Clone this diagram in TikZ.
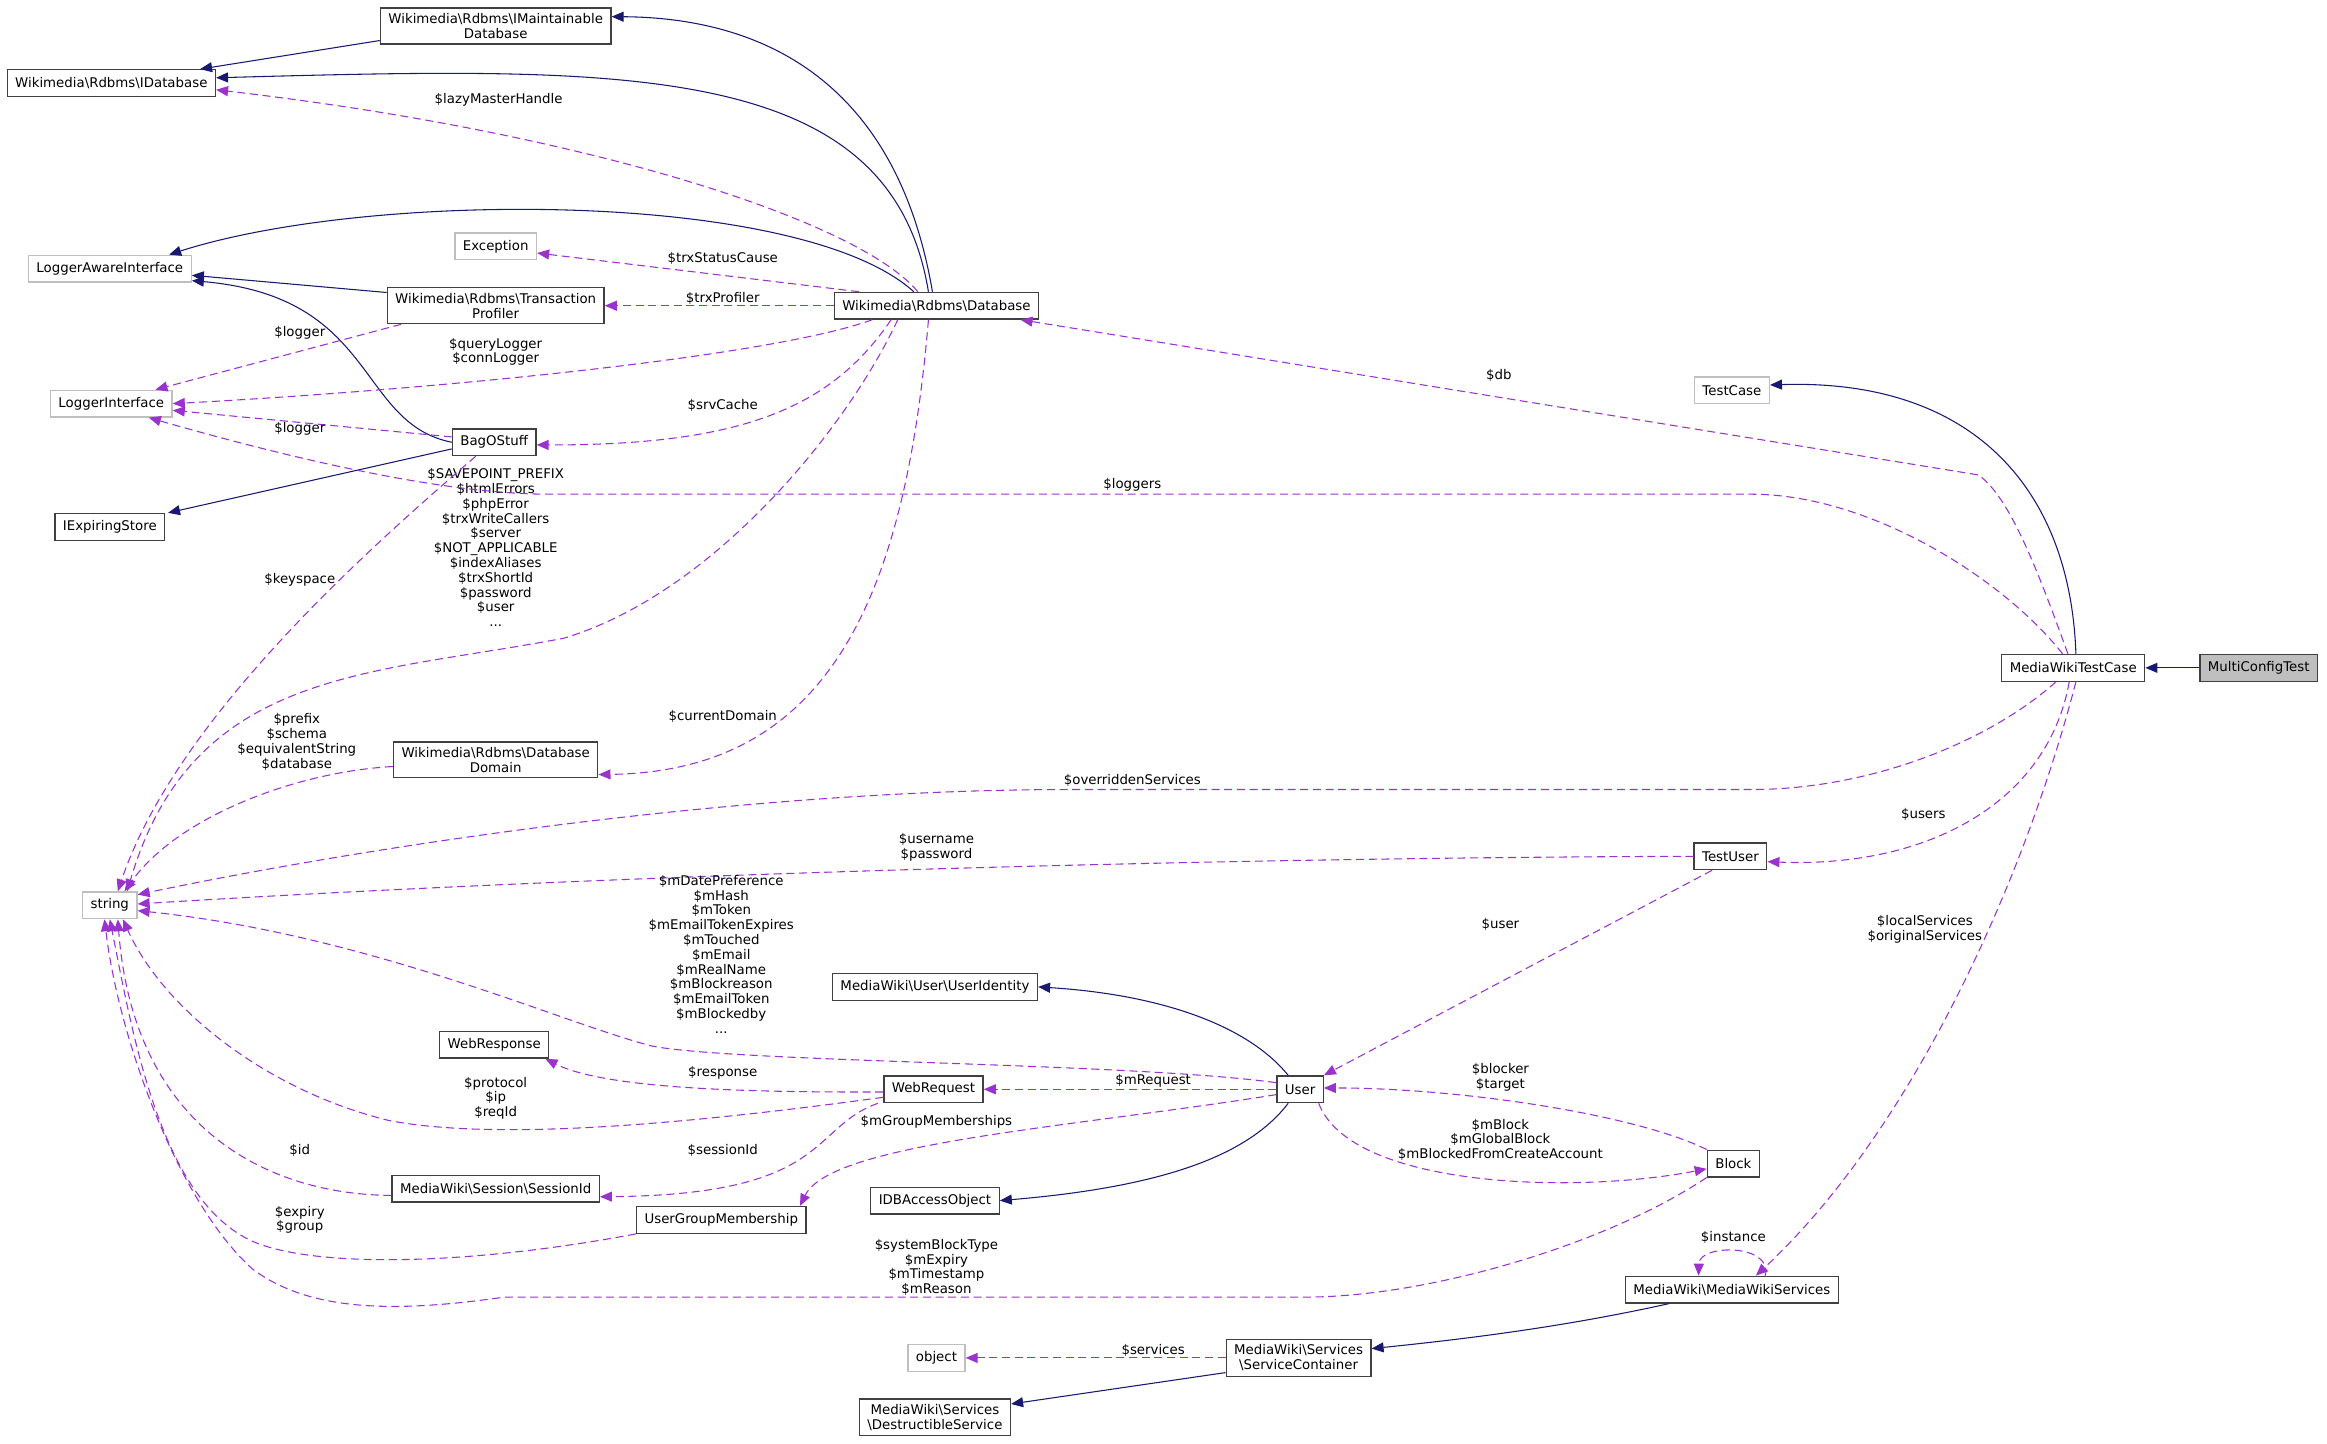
\documentclass[tikz,border=0pt]{standalone}
\usepackage{fontspec}
\setmainfont{DejaVu Sans}
\usepackage{tikz}
\usetikzlibrary{arrows.meta}
\definecolor{inhblue}{RGB}{25, 25, 112}
\definecolor{usepurple}{RGB}{154, 50, 205}
\definecolor{boxgray}{RGB}{191, 191, 191}
\definecolor{edgegray}{RGB}{64, 64, 64}
\newcommand{\bks}{\textbackslash}
\tikzset{
  cls/.style={draw=edgegray, line width=1pt, fill=white, align=center, inner xsep=6pt, inner ysep=4pt, minimum height=20pt},
  ext/.style={cls, draw=boxgray},
  cur/.style={cls, fill=boxgray},
  inherit/.style={draw=inhblue, line width=0.8pt, -{Triangle[length=9pt,width=7.5pt]}},
  assoc/.style={draw=usepurple, line width=0.8pt, dash pattern=on 6pt off 3.5pt, -{Triangle[length=9pt,width=7.5pt]}},
  lbl/.style={align=center, inner sep=0pt}
}

\begin{document}
\begin{tikzpicture}[x=1.113pt, y=1.113pt, font=\fontsize{10}{11.1}\selectfont]
  \useasboundingbox (0,0) rectangle (1568,-973);
  % Classes
  \node[cls] (imaint) at (334,-17.5) {Wikimedia\bks Rdbms\bks IMaintainable\\Database};
  \node[cls] (idb) at (75,-56) {Wikimedia\bks Rdbms\bks IDatabase};
  \node[ext] (lai) at (74,-181) {LoggerAwareInterface};
  \node[ext] (exc) at (334,-166) {Exception};
  \node[cls] (tprof) at (334,-206) {Wikimedia\bks Rdbms\bks Transaction\\Profiler};
  \node[cls] (db) at (631,-206) {Wikimedia\bks Rdbms\bks Database};
  \node[ext] (li) at (75,-272) {LoggerInterface};
  \node[cls] (bag) at (333,-298) {BagOStuff};
  \node[cls] (ies) at (74,-355) {IExpiringStore};
  \node[ext] (tc) at (1167,-263) {TestCase};
  \node[cls] (mwtc) at (1397,-450) {MediaWikiTestCase};
  \node[cur] (mct) at (1522,-450) {MultiConfigTest};
  \node[cls] (dbdom) at (334,-512) {Wikimedia\bks Rdbms\bks Database\\Domain};
  \node[ext] (str) at (74,-610) {string};
  \node[cls] (tuser) at (1166,-577) {TestUser};
  \node[cls] (uid) at (630,-665) {MediaWiki\bks User\bks UserIdentity};
  \node[cls] (wresp) at (333,-704) {WebResponse};
  \node[cls] (wreq) at (629,-734) {WebRequest};
  \node[cls] (user) at (876,-734) {User};
  \node[cls] (block) at (1168,-784) {Block};
  \node[cls] (sess) at (334,-801) {MediaWiki\bks Session\bks SessionId};
  \node[cls] (idbao) at (630,-809) {IDBAccessObject};
  \node[cls] (ugm) at (486,-822) {UserGroupMembership};
  \node[cls] (mws) at (1167,-869) {MediaWiki\bks MediaWikiServices};
  \node[ext] (obj) at (631,-915) {object};
  \node[cls] (sc) at (875,-915) {MediaWiki\bks Services\\\bks ServiceContainer};
  \node[cls] (dsvc) at (630,-955) {MediaWiki\bks Services\\\bks DestructibleService};

  % Inheritance
  \draw[inherit] ([yshift=3pt]imaint.south west) -- ([xshift=-12pt]idb.north east);
  \draw[inherit] ([xshift=-3pt]db.north) .. controls (605,-60) and (520,-12) .. ([yshift=7pt]imaint.east);
  \draw[inherit] ([xshift=-6pt]db.north) .. controls (600,-40) and (420,-45) .. ([yshift=4pt]idb.east);
  \draw[inherit] ([xshift=-17pt]db.north) .. controls (540,-128) and (250,-128) .. ([xshift=-17pt]lai.north east);
  \draw[inherit] ([yshift=-4pt]tprof.north west) -- ([yshift=-5pt]lai.east);
  \draw[inherit] (bag.west) .. controls (240,-285) and (255,-200) .. ([yshift=-9pt]lai.east);
  \draw[inherit] ([yshift=-5pt]bag.west) -- ([xshift=2pt]ies.north east);
  \draw[inherit] ([xshift=2pt]mwtc.north) .. controls (1395,-330) and (1330,-255) .. ([yshift=4pt]tc.east);
  \draw[inherit] (mct.west) -- (mwtc.east);
  \draw[inherit] ([xshift=9pt]user.north west) .. controls (840,-690) and (780,-670) .. (uid.east);
  \draw[inherit] ([xshift=9pt]user.south west) .. controls (840,-780) and (780,-800) .. (idbao.east);
  \draw[inherit] ([xshift=33pt]mws.south west) .. controls (1050,-895) and (980,-903) .. ([yshift=7pt]sc.east);
  \draw[inherit] ([yshift=-11pt]sc.west) -- ([yshift=10pt]dsvc.east);

  % Members of Database
  \draw[assoc] ([xshift=-14pt]db.north) .. controls (580,-150) and (400,-90) .. ([yshift=-5pt]idb.east);
  \node[lbl] (lLazy) at (336,-67) {\$lazyMasterHandle};
  \draw[assoc] ([xshift=19pt]db.north west) -- ([yshift=-5pt]exc.east);
  \node[lbl] (lStatus) at (487,-174) {\$trxStatusCause};
  \draw[assoc] (db.west) -- (tprof.east);
  \node[lbl] (lProf) at (487,-201) {\$trxProfiler};
  \draw[assoc] ([xshift=29pt]db.south west) .. controls (520,-240) and (300,-262) .. (li.east);
  \node[lbl] (lQuery) at (334,-237) {\$queryLogger\\\$connLogger};
  \draw[assoc] ([xshift=-34pt]db.south) .. controls (560,-275) and (500,-300) .. ([yshift=-2pt]bag.east);
  \node[lbl] (lCache) at (487,-273) {\$srvCache};
  \draw[assoc] ([xshift=-29pt]db.south) .. controls (570,-290) and (480,-400) .. (380,-430) .. controls (250,-455) and (130,-450) .. ([xshift=13pt]str.north);
  \node[lbl] (lDbStr) at (334,-369) {\$SAVEPOINT\_PREFIX\\\$htmlErrors\\\$phpError\\\$trxWriteCallers\\\$server\\\$NOT\_APPLICABLE\\\$indexAliases\\\$trxShortId\\\$password\\\$user\\...};
  \draw[assoc] ([xshift=-6pt]db.south) .. controls (610,-400) and (560,-520) .. ([yshift=-11pt]dbdom.east);
  \node[lbl] (lDomain) at (487,-483) {\$currentDomain};

  % Loggers, caches
  \draw[assoc] ([xshift=11pt]tprof.south west) -- ([xshift=-13pt]li.north east);
  \node[lbl] (lLog1) at (202,-224) {\$logger};
  \draw[assoc] ([yshift=4pt]bag.west) -- ([yshift=-5pt]li.east);
  \node[lbl] (lLog2) at (202,-289) {\$logger};
  \draw[assoc] ([xshift=18pt]bag.south west) .. controls (260,-360) and (120,-480) .. ([xshift=6pt]str.north);
  \node[lbl] (lKey) at (202,-391) {\$keyspace};
  \draw[assoc] ([yshift=-5pt]dbdom.west) .. controls (200,-520) and (120,-550) .. ([xshift=11pt]str.north);
  \node[lbl] (lPrefix) at (200,-500) {\$prefix\\\$schema\\\$equivalentString\\\$database};

  % Members of MediaWikiTestCase
  \draw[assoc] ([xshift=-4pt]mwtc.north) .. controls (1375,-390) and (1355,-335) .. (1333,-320) -- ([xshift=-14pt]db.south east);
  \node[lbl] (lDb) at (1010,-253) {\$db};
  \draw[assoc] ([xshift=-8pt]mwtc.north) .. controls (1350,-390) and (1260,-333) .. (1180,-333) -- (370,-333) .. controls (300,-333) and (200,-310) .. ([xshift=-18pt]li.south east);
  \node[lbl] (lLoggers) at (763,-327) {\$loggers};
  \draw[assoc] ([xshift=-13pt]mwtc.south) .. controls (1340,-500) and (1260,-532) .. (1180,-532) -- (720,-532) .. controls (500,-532) and (250,-570) .. ([yshift=8pt]str.east);
  \node[lbl] (lOverride) at (763,-526) {\$overriddenServices};
  \draw[assoc] ([xshift=-3pt]mwtc.south) .. controls (1380,-540) and (1300,-585) .. ([yshift=-4pt]tuser.east);
  \node[lbl] (lUsers) at (1296,-549) {\$users};
  \draw[assoc] ([xshift=2pt]mwtc.south) .. controls (1365,-590) and (1290,-760) .. ([xshift=18pt]mws.north);
  \node[lbl] (lServ) at (1297,-626) {\$localServices\\\$originalServices};

  % TestUser and User
  \draw[assoc] (tuser.west) .. controls (800,-578) and (400,-590) .. ([yshift=1pt]str.east);
  \node[lbl] (lUserName) at (631,-571) {\$username\\\$password};
  \draw[assoc] ([xshift=14pt]tuser.south west) -- (user.north east);
  \node[lbl] (lUser) at (1011,-623) {\$user};
  \draw[assoc] ([yshift=5pt]user.west) .. controls (760,-716) and (500,-716) .. (440,-705) .. controls (380,-690) and (250,-630) .. ([yshift=-4pt]str.east);
  \node[lbl] (lUserStr) at (486,-643) {\$mDatePreference\\\$mHash\\\$mToken\\\$mEmailTokenExpires\\\$mTouched\\\$mEmail\\\$mRealName\\\$mBlockreason\\\$mEmailToken\\\$mBlockedby\\...};
  \draw[assoc] (user.west) -- (wreq.east);
  \node[lbl] (lReq) at (777,-728) {\$mRequest};
  \draw[assoc] ([yshift=-4pt]user.west) .. controls (720,-760) and (560,-770) .. ([xshift=-5pt]ugm.north east);
  \node[lbl] (lGroup) at (631,-756) {\$mGroupMemberships};
  \draw[assoc] (block.north west) .. controls (1100,-750) and (980,-733) .. ([yshift=1pt]user.east);
  \node[lbl] (lBlocker) at (1011,-726) {\$blocker\\\$target};
  \draw[assoc] ([xshift=14pt]user.south) .. controls (910,-800) and (1060,-805) .. ([yshift=-4pt]block.west);
  \node[lbl] (lMBlock) at (1011,-768) {\$mBlock\\\$mGlobalBlock\\\$mBlockedFromCreateAccount};

  % WebRequest, session, groups, block
  \draw[assoc] ([yshift=-2pt]wreq.west) .. controls (520,-736) and (410,-735) .. ([xshift=-3pt]wresp.south east);
  \node[lbl] (lResp) at (487,-723) {\$response};
  \draw[assoc] ([yshift=-6pt]wreq.west) .. controls (480,-755) and (340,-770) .. (262,-755) .. controls (180,-735) and (110,-680) .. ([xshift=-11pt]str.south east);
  \node[lbl] (lProto) at (334,-740) {\$protocol\\\$ip\\\$reqId};
  \draw[assoc] ([xshift=-4pt]wreq.south west) .. controls (545,-760) and (560,-805) .. ([yshift=-6pt]sess.east);
  \node[lbl] (lSess) at (487,-775) {\$sessionId};
  \draw[assoc] ([yshift=-5pt]sess.west) .. controls (180,-805) and (90,-760) .. ([xshift=6pt]str.south);
  \node[lbl] (lId) at (202,-775) {\$id};
  \draw[assoc] (ugm.south west) .. controls (330,-850) and (230,-855) .. (180,-840) .. controls (110,-820) and (90,-700) .. (str.south);
  \node[lbl] (lExpiry) at (202,-822) {\$expiry\\\$group};
  \draw[assoc] (block.south west) .. controls (1080,-840) and (960,-874) .. (880,-874) -- (340,-874) .. controls (270,-884) and (210,-885) .. (170,-855) .. controls (120,-810) and (80,-700) .. ([xshift=-4pt]str.south);
  \node[lbl] (lBlockStr) at (631,-854) {\$systemBlockType\\\$mExpiry\\\$mTimestamp\\\$mReason};

  % Services
  \draw[assoc] ([xshift=25pt]mws.north) .. controls (1195,-838) and (1145,-838) .. ([xshift=-25pt]mws.north);
  \node[lbl] (lInst) at (1168,-834) {\$instance};
  \draw[assoc] (sc.west) -- (obj.east);
  \node[lbl] (lSvc) at (777,-910) {\$services};
\end{tikzpicture}
\end{document}
